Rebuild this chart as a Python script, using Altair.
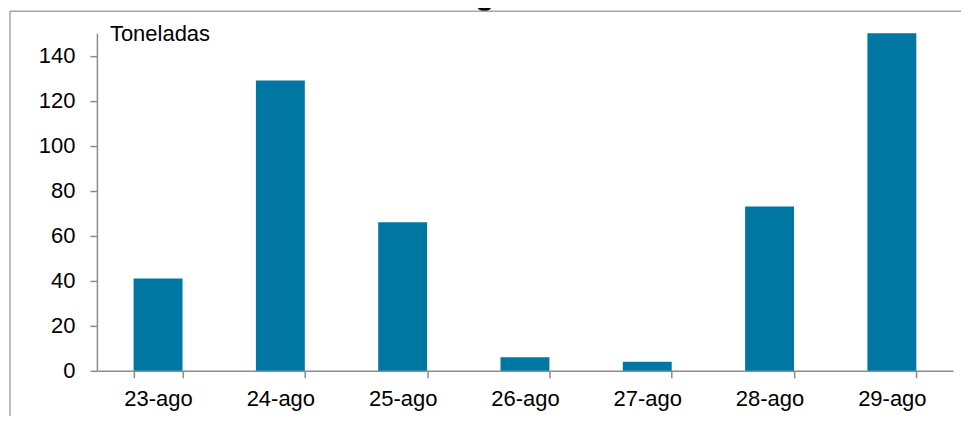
import altair as alt
import pandas as pd

categories = ["23-ago", "24-ago", "25-ago", "26-ago", "27-ago", "28-ago", "29-ago"]
values = [41, 129, 66, 6, 4, 73, 150]
title_text = "23 al 29 de agosto de 2013."
unit_text = "Toneladas"
y_ticks = [0, 20, 40, 60, 80, 100, 120, 140]

FONT = "Liberation Sans"
GRAY = "#8c8c8c"

df = pd.DataFrame({"fecha": categories, "valor": values})
one = pd.DataFrame({"k": [0]})

bars = alt.Chart(df).mark_bar(color="#0077a3").encode(
    x=alt.X("fecha:N", sort=categories, title=None,
            scale=alt.Scale(paddingInner=0.6, paddingOuter=0.3),
            axis=alt.Axis(labelAngle=0, tickBand="extent", tickSize=7,
                          labelPadding=11, labelFontSize=22, labelFont=FONT,
                          labelColor="#000000", domainColor=GRAY, tickColor=GRAY,
                          domainWidth=1.5, tickWidth=1.5)),
    y=alt.Y("valor:Q", title=None,
            scale=alt.Scale(domain=[0, 150], nice=False),
            axis=alt.Axis(values=y_ticks, grid=False, tickSize=7, labelPadding=15,
                          labelFontSize=22, labelFont=FONT, labelColor="#000000",
                          domainColor=GRAY, tickColor=GRAY,
                          domainWidth=1.5, tickWidth=1.5)),
)

unit = alt.Chart(one).mark_text(align="left", baseline="alphabetic", fontSize=22,
                                font=FONT, color="#000000").encode(
    x=alt.value(13), y=alt.value(8), text=alt.value(unit_text))

title = alt.Chart(one).mark_text(align="center", baseline="alphabetic", fontSize=31,
                                 fontWeight="bold", font=FONT, color="#000000").encode(
    x=alt.value(395), y=alt.value(-29.5), text=alt.value(title_text))

frame_top = alt.Chart(one).mark_rule(color="#a6a6a6", strokeWidth=1.5).encode(
    x=alt.value(-87), x2=alt.value(900), y=alt.value(-22))
frame_left = alt.Chart(one).mark_rule(color="#a6a6a6", strokeWidth=1.5).encode(
    x=alt.value(-87), y=alt.value(-22), y2=alt.value(400))

chart = alt.layer(bars, unit, title, frame_top, frame_left).properties(
    width=857, height=338,
    autosize=alt.AutoSizeParams(type="none"),
    padding={"left": 89, "top": 25, "right": 8, "bottom": 45},
).configure_view(strokeWidth=0)

chart.save("out.html", embed_options={"renderer": "svg", "actions": False})
